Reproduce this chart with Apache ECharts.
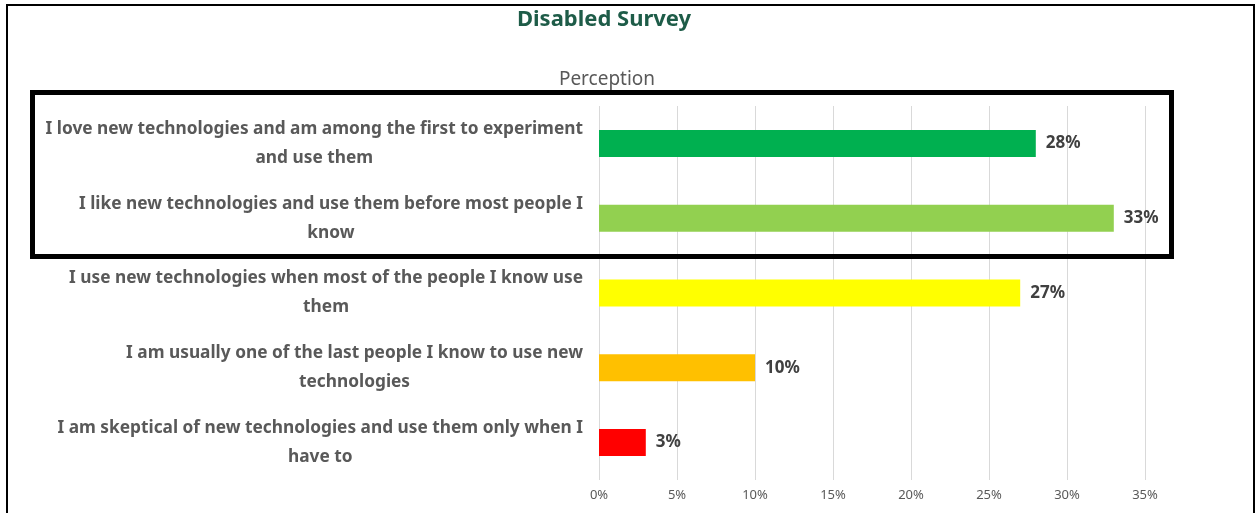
<!DOCTYPE html>
<html>
<head>
<meta charset="utf-8">
<title>Disabled Survey</title>
<script src="https://cdn.jsdelivr.net/npm/echarts@6/dist/echarts.min.js"></script>
<style>
  html, body { margin: 0; padding: 0; background: #ffffff; }
  #chart { width: 1257px; height: 513px; }
</style>
</head>
<body>
<div id="chart"></div>
<script>
// Survey answers, top to bottom as they appear on the chart
const categories = [
  'I love new technologies and am among the first to experiment\nand use them',
  'I like new technologies and use them before most people I\nknow',
  'I use new technologies when most of the people I know use\nthem',
  'I am usually one of the last people I know to use new\ntechnologies',
  'I am skeptical of new technologies and use them only when I\nhave to'
];
const shares = [28, 33, 27, 10, 3]; // percent of respondents
const barColors = ['#00B050', '#92D050', '#FFFF00', '#FFC000', '#FF0000'];
const tickValues = [0, 5, 10, 15, 20, 25, 30, 35];

const FONT = '"Noto Sans", "Open Sans", sans-serif';

const chart = echarts.init(document.getElementById('chart'), null, { renderer: 'canvas' });

chart.setOption({
  animation: false,
  backgroundColor: '#ffffff',
  title: [
    {
      text: 'Disabled Survey',
      left: 599, top: 4, textAlign: 'center',
      textStyle: { fontFamily: FONT, fontWeight: 'bold', fontSize: 22, color: '#1E5C48' }
    },
    {
      text: 'Perception',
      left: 602, top: 65, textAlign: 'center',
      textStyle: { fontFamily: FONT, fontWeight: 'normal', fontSize: 19, color: '#595959' }
    }
  ],
  grid: { left: 599, right: 1257 - 1145, top: 106, bottom: 33, containLabel: false },
  xAxis: {
    type: 'value',
    min: tickValues[0],
    max: tickValues[tickValues.length - 1],
    interval: 5,
    axisLine: { show: false },
    axisTick: { show: false },
    splitLine: { show: true, lineStyle: { color: '#D9D9D9', width: 1 } },
    axisLabel: {
      margin: 9,
      formatter: v => v + '%',
      fontFamily: FONT, fontSize: 13, color: '#595959'
    }
  },
  yAxis: {
    type: 'category',
    inverse: true,
    data: categories,
    axisLine: { show: false },
    axisTick: { show: false },
    splitLine: { show: false },
    axisLabel: {
      margin: 16,
      align: 'right',
      lineHeight: 29,
      formatter: s => s.split('\n').map(l => '{c|' + l + '}').join('\n'),
      rich: {
        c: {
          align: 'center',
          fontFamily: FONT, fontWeight: 'bold', fontSize: 17.3, color: '#595959', lineHeight: 29
        }
      }
    }
  },
  series: [{
    type: 'bar',
    barWidth: 27,
    data: shares.map((v, i) => ({ value: v, itemStyle: { color: barColors[i] } })),
    label: {
      show: true,
      position: 'right',
      distance: 10,
      formatter: p => p.value + '%',
      fontFamily: FONT, fontWeight: 'bold', fontSize: 17, color: '#404040'
    }
  }],
  graphic: [
    {
      type: 'rect', silent: true, z: 100,
      shape: { x: 7, y: 5, width: 1247, height: 520 },
      style: { fill: 'none', stroke: '#000000', lineWidth: 2 }
    },
    {
      type: 'rect', silent: true, z: 100,
      shape: { x: 32.5, y: 92.5, width: 1139, height: 164 },
      style: { fill: 'none', stroke: '#000000', lineWidth: 5 }
    }
  ]
});
</script>
</body>
</html>
